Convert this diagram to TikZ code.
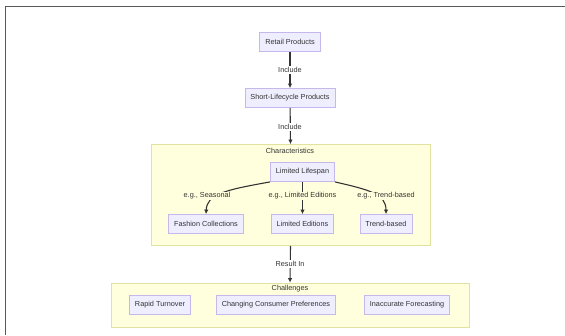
\documentclass[tikz,border=0pt]{standalone}
\usepackage{fontspec}
\setmainfont{Liberation Sans}
\usetikzlibrary{arrows.meta}
\definecolor{boxfill}{HTML}{EEEEFF}
\definecolor{boxline}{HTML}{C4B8EC}
\definecolor{grpfill}{HTML}{FFFFDE}
\definecolor{grpline}{HTML}{E2E2A0}
\definecolor{ink}{HTML}{333333}

\begin{document}
\begin{tikzpicture}[x=1pt,y=-1pt,>={Latex[length=4.5pt,width=4.5pt]},
  every node/.style={font=\fontsize{7.3}{8}\selectfont, text=ink},
  box/.style={draw=boxline, fill=boxfill, line width=0.8pt, minimum height=19pt, inner xsep=5.5pt},
  grp/.style={draw=grpline, fill=grpfill, line width=0.8pt, inner sep=0pt},
  edge/.style={draw=ink, line width=1.1pt, ->},
  lbl/.style={fill=white, inner sep=1pt}]
\useasboundingbox (0,0) rectangle (565,335);
% frame
\draw[gray!70!black, line width=1pt] (5.5,335) -- (5.5,6.5) -- (565,6.5);

% 1. groups
\node[grp, minimum width=279pt, minimum height=101pt] (chars) at (290.5,195) {};
\node (charsT) at (290,151) {Characteristics};
\node[grp, minimum width=358pt, minimum height=44pt] (chall) at (290,305) {};
\node (challT) at (290,289) {Challenges};

% 2. main chain
\node[box] (retail) at (290,42) {Retail Products};
\node[box] (short) at (290,98) {Short-Lifecycle Products};
\draw[edge] (retail) -- (short);
\draw[edge] (short) -- (chars.north);
\draw[edge] (chars.south) -- (chall.north);
\node[lbl] (inc1) at (290,70) {Include};
\node[lbl] (inc2) at (290,127) {Include};
\node[lbl] (res) at (290,264) {Result In};

% 3. characteristics
\node[box] (lifespan) at (302.5,172) {Limited Lifespan};
\node[box] (fashion) at (206,224) {Fashion Collections};
\node[box] (limited) at (302.5,224) {Limited Editions};
\node[box] (trend) at (386,224) {Trend-based};
\draw[edge] (lifespan.197) .. controls (225,190) and (207,194) .. (fashion.north);
\draw[edge] (lifespan) -- (limited);
\draw[edge] (lifespan.343) .. controls (370,190) and (386,194) .. (trend.north);
\node[lbl, fill=grpfill] (egA) at (207,196) {e.g., Seasonal};
\node[lbl, fill=grpfill] (egB) at (302.5,196) {e.g., Limited Editions};
\node[lbl, fill=grpfill] (egC) at (386,196) {e.g., Trend-based};

% 4. challenges
\node[box] (rapid) at (160,305) {Rapid Turnover};
\node[box] (changing) at (276,305) {Changing Consumer Preferences};
\node[box] (inacc) at (407,305) {Inaccurate Forecasting};
\end{tikzpicture}
\end{document}
